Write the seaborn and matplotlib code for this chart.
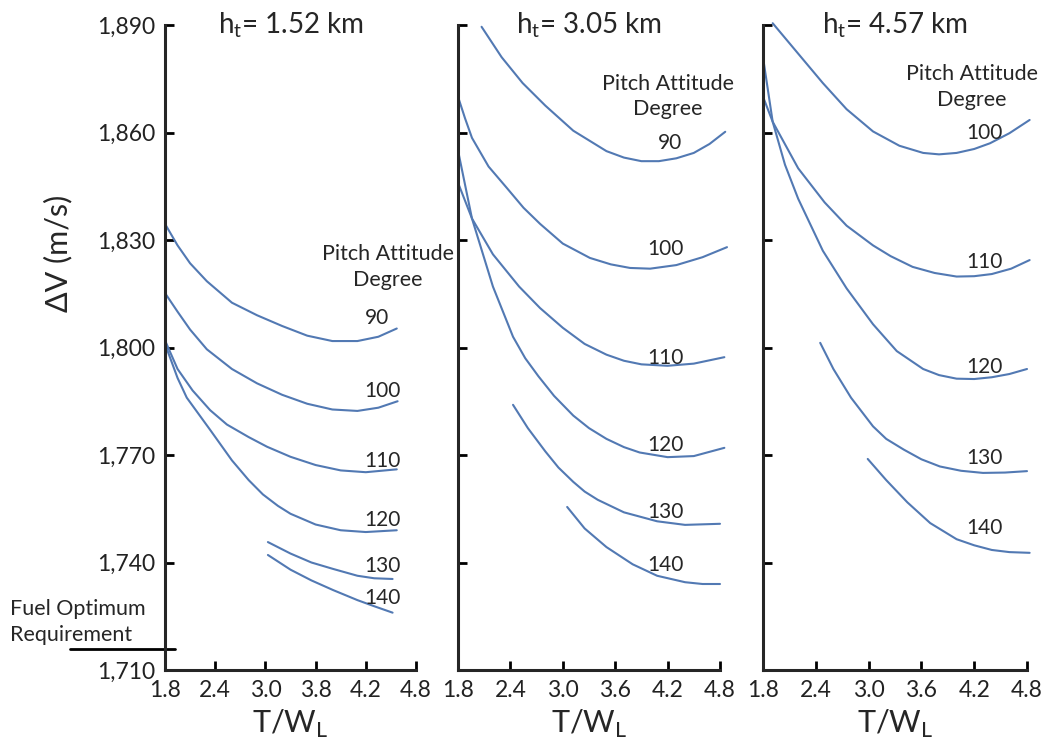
import matplotlib
matplotlib.use("Agg")
import matplotlib.pyplot as plt
import pandas as pd
import seaborn as sns

# T/W_L and delta-V, one list per pitch curve
heights = ["1.52", "3.05", "4.57"]

tw_152 = {
    90: [1.8, 1.95, 2.1, 2.3, 2.6, 2.9, 3.2, 3.5, 3.8, 4.1, 4.35, 4.57],
    100: [1.8, 1.95, 2.1, 2.3, 2.6, 2.9, 3.2, 3.5, 3.8, 4.1, 4.35, 4.58],
    110: [1.8, 1.95, 2.13, 2.34, 2.54, 2.8, 3.02, 3.3, 3.6, 3.9, 4.2, 4.57],
    120: [1.8, 1.95, 2.06, 2.34, 2.6, 2.8, 2.97, 3.15, 3.3, 3.6, 3.9, 4.2, 4.57],
    130: [3.03, 3.3, 3.55, 3.81, 4.1, 4.3, 4.52],
    140: [3.03, 3.3, 3.55, 3.81, 4.1, 4.3, 4.52],
}
dv_152 = {
    90: [1834.5, 1828.5, 1823.5, 1818.5, 1812.5, 1809, 1806, 1803.3, 1801.8, 1801.8, 1803, 1805.3],
    100: [1815.2, 1810, 1805, 1799.5, 1794, 1790, 1786.8, 1784.3, 1782.7, 1782.3, 1783.2, 1785],
    110: [1802, 1794, 1788, 1782.5, 1778.5, 1775, 1772.3, 1769.5, 1767.2, 1765.7, 1765.2, 1766],
    120: [1801, 1791.5, 1786, 1777, 1768.5, 1763, 1759, 1755.8, 1753.6, 1750.6, 1749, 1748.5, 1749],
    130: [1745.7, 1742.5, 1740, 1738.2, 1736.3, 1735.6, 1735.4],
    140: [1742.1, 1738, 1735, 1732.3, 1729.5, 1727.8, 1726],
}

tw_305 = {
    90: [2.07, 2.3, 2.54, 2.8, 3.12, 3.5, 3.7, 3.9, 4.1, 4.3, 4.5, 4.68, 4.86],
    100: [1.8, 1.88, 1.96, 2.15, 2.36, 2.55, 2.74, 3.0, 3.31, 3.55, 3.77, 4.0, 4.3, 4.6, 4.88],
    110: [1.8, 1.96, 2.2, 2.5, 2.74, 3.0, 3.25, 3.5, 3.7, 3.9, 4.2, 4.5, 4.85],
    120: [1.8, 1.96, 2.2, 2.43, 2.57, 2.72, 2.9, 3.12, 3.3, 3.5, 3.7, 3.88, 4.2, 4.5, 4.85],
    130: [2.43, 2.6, 2.8, 2.95, 3.12, 3.25, 3.4, 3.7, 4.08, 4.4, 4.8],
    140: [3.05, 3.25, 3.5, 3.8, 4.08, 4.4, 4.6, 4.8],
}
dv_305 = {
    90: [1889.5, 1881, 1873.8, 1867.5, 1860.5, 1854.8, 1853, 1852, 1852, 1852.8, 1854.3, 1856.8, 1860.2],
    100: [1870, 1864, 1858.5, 1850.5, 1844.5, 1839, 1834.5, 1829, 1825, 1823.2, 1822.2, 1822,
          1823, 1825.2, 1828],
    110: [1846, 1836, 1826, 1817, 1811, 1805.5, 1801, 1798, 1796.3, 1795.3, 1794.9, 1795.5, 1797.3],
    120: [1855, 1836, 1817, 1803, 1797, 1792, 1786.5, 1781, 1777.5, 1774.5, 1772.2, 1770.7,
          1769.4, 1769.7, 1772],
    130: [1784, 1777.5, 1771, 1766.5, 1762.5, 1759.8, 1757.5, 1754, 1751.5, 1750.5, 1750.8],
    140: [1755.5, 1749.5, 1744.3, 1739.5, 1736.3, 1734.5, 1734, 1734],
}

tw_457 = {
    100: [1.91, 2.2, 2.48, 2.75, 3.05, 3.35, 3.62, 3.8, 4.0, 4.2, 4.38, 4.6, 4.83],
    110: [1.8, 1.91, 2.2, 2.5, 2.75, 3.05, 3.25, 3.5, 3.75, 4.0, 4.2, 4.4, 4.62, 4.83],
    120: [1.8, 1.91, 2.05, 2.2, 2.48, 2.75, 3.05, 3.32, 3.62, 3.8, 4.0, 4.2, 4.4, 4.6, 4.8],
    130: [2.45, 2.6, 2.8, 3.05, 3.2, 3.4, 3.6, 3.81, 4.05, 4.3, 4.55, 4.8],
    140: [2.99, 3.2, 3.44, 3.7, 4.0, 4.2, 4.4, 4.6, 4.83],
}
dv_457 = {
    100: [1890.5, 1882, 1873.8, 1866.5, 1860.3, 1856.3, 1854.3, 1853.9, 1854.3, 1855.4, 1857,
          1859.8, 1863.5],
    110: [1870, 1863, 1850, 1840.5, 1834, 1828.5, 1825.5, 1822.5, 1820.8, 1819.8, 1819.9, 1820.5,
          1822, 1824.4],
    120: [1881, 1863, 1851, 1841.5, 1827, 1816.5, 1806.5, 1799, 1794, 1792.3, 1791.3, 1791.2,
          1791.7, 1792.6, 1794],
    130: [1801.3, 1794, 1786, 1778, 1774.5, 1771.5, 1768.8, 1766.8, 1765.6, 1765, 1765.1, 1765.5],
    140: [1768.9, 1763, 1756.8, 1751, 1746.5, 1744.8, 1743.5, 1742.9, 1742.7],
}

# curve label positions (T/W_L, delta-V)
label_pos_152 = {90: (4.33, 1808.2), 100: (4.4, 1787.9), 110: (4.4, 1768.3),
                 120: (4.4, 1751.9), 130: (4.4, 1739), 140: (4.4, 1730.1)}
label_pos_305 = {90: (4.23, 1857.1), 100: (4.17, 1827.5), 110: (4.17, 1797.1),
                 120: (4.17, 1772.8), 130: (4.17, 1754.1), 140: (4.17, 1739.3)}
label_pos_457 = {100: (4.32, 1859.9), 110: (4.32, 1823.9), 120: (4.32, 1794.6),
                 130: (4.32, 1769.2), 140: (4.32, 1749.6)}
header_pos = [(4.46, 1822.5), (4.2, 1870), (4.175, 1872.7)]

x_ticks = [1.8, 2.4, 3.0, 3.6, 4.2, 4.8]
x_tick_labels = [
    ["1.8", "2.4", "3.0", "3.8", "4.2", "4.8"],
    ["1.8", "2.4", "3.0", "3.6", "4.2", "4.8"],
    ["1.8", "2.4", "3.0", "3.6", "4.2", "4.8"],
]
y_ticks = [1710, 1740, 1770, 1800, 1830, 1860, 1890]
y_tick_labels = ["1,710", "1,740", "1,770", "1,800", "1,830", "1,860", "1,890"]
fuel_req = 1716

rows = []
for h, tw, dv in zip(heights, [tw_152, tw_305, tw_457], [dv_152, dv_305, dv_457]):
    for pitch in tw:
        for x, y in zip(tw[pitch], dv[pitch]):
            rows.append({"h": h, "pitch": pitch, "tw": x, "dv": y})
df = pd.DataFrame(rows)

sns.set_style("ticks")
plt.rcParams["font.family"] = ["Lato", "DejaVu Sans"]
plt.rcParams["axes.linewidth"] = 2.2

line_color = "#5279b3"
fig = plt.figure(figsize=(10.46, 7.47), dpi=100)
lefts = [165 / 1046, 458 / 1046, 763 / 1046]
widths = [251 / 1046, 262 / 1046, 264 / 1046]
label_sets = [label_pos_152, label_pos_305, label_pos_457]

for i, h in enumerate(heights):
    ax = fig.add_axes([lefts[i], 77 / 747, widths[i], 645 / 747])
    sub = df[df["h"] == h]
    sns.lineplot(data=sub, x="tw", y="dv", units="pitch", estimator=None,
                 sort=False, color=line_color, lw=1.5, clip_on=False, ax=ax)
    ax.set_xlim(1.8, 4.8)
    ax.set_ylim(1710, 1890)
    sns.despine(ax=ax)
    ax.set_xticks(x_ticks)
    ax.set_xticklabels(x_tick_labels[i], fontsize=16.5)
    ax.set_yticks(y_ticks)
    ax.tick_params(direction="in", length=6.5, width=2, color="black", pad=7)
    if i == 0:
        ax.set_yticklabels(y_tick_labels, fontsize=16.5, color="#222222")
    else:
        ax.tick_params(axis="y", labelleft=False)
    ax.set_ylabel("")
    for t in ax.get_xticklabels():
        t.set_color("#222222")
    ax.set_xlabel(r"T/W$_\mathregular{L}$", fontsize=22, labelpad=5)
    ax.text(0.5, 0.988, r"h$_\mathregular{t}$= " + h + " km", transform=ax.transAxes,
            ha="center", va="baseline", fontsize=20)
    for pitch, (lx, ly) in label_sets[i].items():
        ax.text(lx, ly, str(pitch), ha="center", va="center", fontsize=15)
    hx, hy = header_pos[i]
    ax.text(hx, hy, "Pitch Attitude\nDegree", ha="center", va="center",
            fontsize=15.5, linespacing=1.35)
    if i == 0:
        ax.axhline(fuel_req, xmin=-0.378, xmax=0.04, color="black", lw=2, clip_on=False)

fig.text(10 / 1046, 1 - 622 / 747, "Fuel Optimum\nRequirement", ha="left", va="center",
         fontsize=15.5, linespacing=1.35)
fig.text(58 / 1046, 1 - 253 / 747, "ΔV (m/s)", rotation=90, ha="center", va="center",
         fontsize=22)

fig.savefig("out.png", dpi=100)
